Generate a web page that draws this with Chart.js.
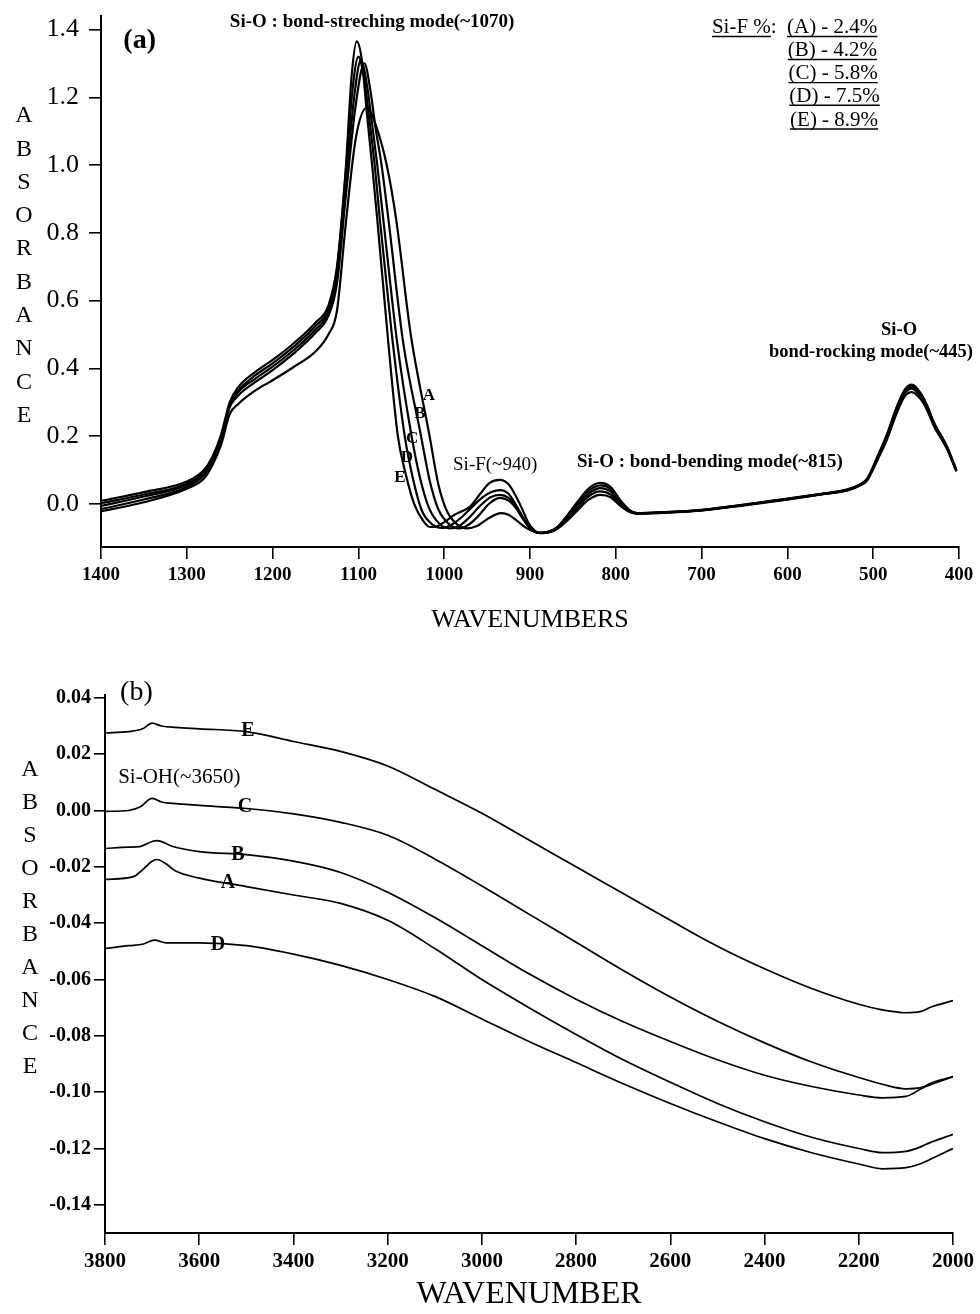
<!DOCTYPE html>
<html>
<head>
<meta charset="utf-8">
<script src="https://cdn.jsdelivr.net/npm/chart.js@4.4.1/dist/chart.umd.min.js"></script>
<style>
  html, body { margin: 0; padding: 0; background: #fff; }
  #wrap { position: relative; width: 980px; height: 1314px; }
  #chartA { position: absolute; left: 0; top: 0; }
  #chartB { position: absolute; left: 0; top: 650px; }
</style>
</head>
<body>
<div id="wrap">
  <canvas id="chartA" width="980" height="650"></canvas>
  <canvas id="chartB" width="980" height="664"></canvas>
</div>
<script>
// ---- panel (a): 1400-400 cm-1, [wavenumber, absorbance] ----
const aCurveA = [[1400,-0.022],[1350,0.005],[1300,0.045],[1280,0.075],[1270,0.115],[1260,0.175],[1250,0.265],[1240,0.295],[1220,0.335],[1200,0.365],[1175,0.405],[1150,0.45],[1135,0.5],[1125,0.57],[1115,0.82],[1103,1.08],[1090,1.17],[1080,1.12],[1067,1.0],[1056,0.84],[1039,0.5],[1017,0.2],[1007,0.06],[997,-0.02],[985,-0.06],[973,-0.072],[962,-0.065],[950,-0.045],[940,-0.031],[933,-0.027],[925,-0.032],[915,-0.05],[905,-0.07],[895,-0.082],[888,-0.086],[878,-0.084],[868,-0.073],[857,-0.05],[845,-0.02],[832,0.012],[818,0.027],[806,0.02],[795,-0.005],[784,-0.024],[775,-0.029],[750,-0.027],[700,-0.019],[650,-0.004],[600,0.013],[560,0.028],[530,0.04],[515,0.055],[507,0.07],[495,0.13],[484,0.19],[472,0.272],[463,0.318],[455,0.33],[445,0.31],[437,0.276],[430,0.234],[414,0.162],[403,0.096]];
const aCurveB = [[1400,-0.015],[1350,0.013],[1300,0.05],[1280,0.085],[1270,0.125],[1260,0.19],[1250,0.285],[1240,0.32],[1220,0.36],[1200,0.395],[1175,0.445],[1150,0.505],[1135,0.555],[1125,0.65],[1115,0.9],[1103,1.18],[1093,1.30],[1086,1.22],[1080,1.11],[1073,1.0],[1065,0.84],[1048,0.48],[1027,0.2],[1017,0.07],[1007,-0.015],[995,-0.058],[983,-0.072],[972,-0.062],[960,-0.035],[948,0.0],[935,0.018],[925,0.01],[917,-0.01],[908,-0.045],[900,-0.072],[890,-0.085],[880,-0.084],[868,-0.071],[857,-0.045],[845,-0.012],[832,0.022],[818,0.037],[806,0.028],[795,0.0],[784,-0.022],[775,-0.028],[750,-0.026],[700,-0.019],[650,-0.003],[600,0.014],[560,0.029],[530,0.041],[515,0.056],[507,0.072],[495,0.134],[484,0.197],[472,0.28],[463,0.327],[455,0.34],[445,0.318],[437,0.282],[430,0.238],[414,0.165],[403,0.097]];
const aCurveC = [[1400,-0.006],[1350,0.022],[1300,0.056],[1280,0.09],[1270,0.13],[1260,0.195],[1250,0.29],[1240,0.33],[1220,0.37],[1200,0.405],[1175,0.455],[1150,0.515],[1135,0.565],[1125,0.67],[1115,0.93],[1105,1.2],[1097,1.31],[1090,1.235],[1084,1.12],[1078,1.0],[1071,0.84],[1055,0.48],[1038,0.2],[1028,0.075],[1018,-0.01],[1005,-0.06],[993,-0.072],[982,-0.064],[970,-0.038],[958,-0.005],[946,0.02],[935,0.027],[925,0.018],[917,-0.005],[908,-0.042],[900,-0.07],[890,-0.085],[880,-0.083],[868,-0.069],[857,-0.04],[845,-0.005],[832,0.03],[818,0.047],[806,0.037],[795,0.005],[784,-0.02],[775,-0.028],[750,-0.026],[700,-0.018],[650,-0.003],[600,0.014],[560,0.029],[530,0.041],[515,0.057],[507,0.073],[495,0.136],[484,0.2],[472,0.284],[463,0.332],[455,0.345],[445,0.322],[437,0.285],[430,0.24],[414,0.166],[403,0.098]];
const aCurveD = [[1400,0.002],[1350,0.028],[1300,0.06],[1280,0.095],[1270,0.135],[1260,0.2],[1250,0.295],[1240,0.335],[1220,0.38],[1200,0.415],[1175,0.465],[1150,0.525],[1135,0.575],[1125,0.69],[1115,0.97],[1107,1.22],[1100,1.32],[1093,1.25],[1087,1.13],[1081,1.0],[1075,0.84],[1061,0.5],[1046,0.2],[1036,0.07],[1026,-0.02],[1013,-0.062],[1003,-0.071],[992,-0.062],[980,-0.04],[968,-0.01],[955,0.02],[945,0.035],[935,0.041],[925,0.03],[917,0.0],[908,-0.04],[900,-0.07],[890,-0.085],[880,-0.083],[868,-0.068],[857,-0.037],[845,0.0],[832,0.038],[818,0.055],[806,0.044],[795,0.01],[784,-0.019],[775,-0.027],[750,-0.025],[700,-0.017],[650,-0.002],[600,0.016],[560,0.03],[530,0.043],[515,0.058],[507,0.074],[495,0.138],[484,0.203],[472,0.288],[463,0.336],[455,0.35],[445,0.326],[437,0.288],[430,0.243],[414,0.168],[403,0.099]];
const aCurveE = [[1400,0.009],[1350,0.035],[1300,0.066],[1280,0.10],[1270,0.14],[1260,0.205],[1250,0.30],[1240,0.345],[1220,0.39],[1200,0.425],[1175,0.475],[1150,0.535],[1135,0.585],[1125,0.70],[1115,0.98],[1108,1.26],[1102,1.365],[1096,1.31],[1090,1.15],[1084,1.0],[1078,0.84],[1066,0.5],[1054,0.2],[1045,0.09],[1035,0.0],[1025,-0.048],[1017,-0.068],[1008,-0.066],[998,-0.05],[988,-0.032],[980,-0.022],[970,-0.008],[958,0.03],[947,0.062],[935,0.071],[925,0.058],[918,0.03],[910,-0.01],[902,-0.055],[895,-0.078],[888,-0.086],[878,-0.083],[868,-0.068],[857,-0.035],[845,0.005],[832,0.045],[818,0.062],[806,0.05],[795,0.012],[784,-0.018],[775,-0.027],[750,-0.025],[700,-0.018],[650,-0.002],[600,0.015],[560,0.03],[530,0.042],[515,0.058],[507,0.075],[495,0.14],[484,0.205],[472,0.29],[463,0.338],[455,0.352],[445,0.328],[437,0.29],[430,0.245],[414,0.17],[403,0.10]];
const xTicksA = [1400, 1300, 1200, 1100, 1000, 900, 800, 700, 600, 500, 400];
const yTicksA = [0.0, 0.2, 0.4, 0.6, 0.8, 1.0, 1.2, 1.4];
const legendA = ['(A) - 2.4%', '(B) - 4.2%', '(C) - 5.8%', '(D) - 7.5%', '(E) - 8.9%'];

// ---- panel (b): 3800-2000 cm-1 ----
const bCurveA = [[3800,-0.0245],[3740,-0.0235],[3720,-0.021],[3700,-0.018],[3690,-0.0174],[3670,-0.019],[3650,-0.0215],[3600,-0.024],[3500,-0.027],[3400,-0.030],[3300,-0.033],[3200,-0.039],[3100,-0.049],[3000,-0.060],[2900,-0.070],[2800,-0.0795],[2700,-0.0885],[2600,-0.0965],[2500,-0.104],[2400,-0.1105],[2300,-0.116],[2200,-0.120],[2150,-0.1215],[2100,-0.121],[2070,-0.1195],[2050,-0.118],[2000,-0.115]];
const bCurveB = [[3800,-0.0135],[3750,-0.013],[3726,-0.0128],[3700,-0.011],[3690,-0.0107],[3656,-0.0128],[3600,-0.0146],[3500,-0.0157],[3400,-0.018],[3300,-0.022],[3200,-0.029],[3100,-0.038],[3000,-0.048],[2900,-0.058],[2800,-0.067],[2700,-0.075],[2600,-0.082],[2500,-0.0885],[2400,-0.094],[2300,-0.098],[2200,-0.101],[2150,-0.102],[2100,-0.1015],[2070,-0.099],[2050,-0.097],[2000,-0.0945]];
const bCurveC = [[3800,-0.0003],[3750,0.0],[3726,0.0012],[3700,0.0043],[3680,0.003],[3656,0.0025],[3600,0.0018],[3500,0.0007],[3400,-0.0012],[3300,-0.0042],[3200,-0.0088],[3100,-0.0172],[3000,-0.0268],[2900,-0.0368],[2800,-0.0468],[2700,-0.0568],[2600,-0.0662],[2500,-0.0748],[2400,-0.0825],[2300,-0.0893],[2200,-0.0948],[2150,-0.0972],[2100,-0.0988],[2070,-0.0985],[2050,-0.0975],[2000,-0.0945]];
const bCurveD = [[3800,-0.049],[3750,-0.048],[3720,-0.0475],[3695,-0.046],[3670,-0.047],[3600,-0.047],[3500,-0.048],[3400,-0.051],[3300,-0.055],[3200,-0.060],[3100,-0.066],[3000,-0.074],[2900,-0.082],[2800,-0.0895],[2700,-0.097],[2600,-0.104],[2500,-0.1105],[2400,-0.1165],[2300,-0.1215],[2200,-0.1255],[2150,-0.1272],[2100,-0.1268],[2070,-0.1255],[2050,-0.124],[2000,-0.120]];
const bCurveE = [[3800,0.0275],[3750,0.028],[3720,0.029],[3700,0.031],[3680,0.030],[3650,0.0295],[3600,0.029],[3500,0.028],[3400,0.0245],[3300,0.021],[3200,0.0158],[3100,0.0075],[3000,-0.001],[2900,-0.0105],[2800,-0.020],[2700,-0.0295],[2600,-0.039],[2500,-0.0482],[2400,-0.0562],[2300,-0.0632],[2200,-0.0688],[2150,-0.0708],[2100,-0.0718],[2070,-0.0714],[2045,-0.0697],[2000,-0.0675]];
const xTicksB = [3800, 3600, 3400, 3200, 3000, 2800, 2600, 2400, 2200, 2000];
const yTicksB = [0.04, 0.02, 0.0, -0.02, -0.04, -0.06, -0.08, -0.10, -0.12, -0.14];

const SERIF = "'Liberation Serif', 'Times New Roman', serif";

// draws notes (positioned in data units) and the stacked axis title
const figureText = {
    id: 'figureText',
    afterDatasetsDraw(chart, args, opts) {
        const ctx = chart.ctx;
        const xs = chart.scales.x;
        const ys = chart.scales.y;
        ctx.save();
        ctx.fillStyle = '#000';
        ctx.strokeStyle = '#000';
        ctx.textBaseline = 'middle';
        (opts.notes || []).forEach(n => {
            ctx.font = n.font;
            ctx.textAlign = n.align || 'left';
            const px = xs.getPixelForValue(n.x);
            const py = ys.getPixelForValue(n.y);
            ctx.fillText(n.text, px, py);
            if (n.underline) {
                const w = ctx.measureText(n.underline).width;
                ctx.lineWidth = 1.4;
                ctx.beginPath();
                ctx.moveTo(px, py + 9);
                ctx.lineTo(px + w, py + 9);
                ctx.stroke();
            }
        });
        const side = opts.side;
        if (side) {
            ctx.font = side.font;
            ctx.textAlign = 'center';
            side.text.split('').forEach((ch, i) => ctx.fillText(ch, side.x, side.y + i * side.step));
        }
        ctx.restore();
    }
};

function toPoints(arr) {
    return arr.map(p => ({ x: p[0], y: p[1] }));
}

function lineSet(label, arr, width) {
    return {
        label: label,
        data: toPoints(arr),
        borderColor: '#000',
        borderWidth: width,
        pointRadius: 0,
        fill: false,
        cubicInterpolationMode: 'monotone'
    };
}

function fixBox(w, h) {
    return scale => {
        if (w !== null) scale.width = w;
        if (h !== null) scale.height = h;
        scale.paddingTop = 0;
        scale.paddingBottom = 0;
        scale.paddingLeft = 0;
        scale.paddingRight = 0;
    };
}

// Panel (a)
const notesA = [
    { text: '(a)', x: 1374, y: 1.3675, font: 'bold 28px ' + SERIF },
    { text: 'Si-O : bond-streching mode(~1070)', x: 1084, y: 1.4206, font: 'bold 19px ' + SERIF, align: 'center' },
    { text: 'Si-F %:', x: 688, y: 1.406, font: '21px ' + SERIF, underline: 'Si-F %' },
    { text: 'Si-F(~940)', x: 989.7, y: 0.115, font: '19px ' + SERIF },
    { text: 'Si-O : bond-bending mode(~815)', x: 845.2, y: 0.124, font: 'bold 19px ' + SERIF },
    { text: 'Si-O', x: 469.9, y: 0.513, font: 'bold 18.5px ' + SERIF, align: 'center' },
    { text: 'bond-rocking mode(~445)', x: 502.6, y: 0.448, font: 'bold 18.5px ' + SERIF, align: 'center' },
    { text: 'A', x: 1017.7, y: 0.321, font: 'bold 17px ' + SERIF, align: 'center' },
    { text: 'B', x: 1028.2, y: 0.268, font: 'bold 17px ' + SERIF, align: 'center' },
    { text: 'C', x: 1037.5, y: 0.192, font: 'bold 17px ' + SERIF, align: 'center' },
    { text: 'D', x: 1043.4, y: 0.136, font: 'bold 17px ' + SERIF, align: 'center' },
    { text: 'E', x: 1051.5, y: 0.077, font: 'bold 17px ' + SERIF, align: 'center' }
];
const legendRowsY = [1.406, 1.338, 1.270, 1.203, 1.133];
legendA.forEach((t, i) => {
    notesA.push({ text: t, x: 600.5 - i * 0.9, y: legendRowsY[i], font: '21px ' + SERIF, underline: t });
});

new Chart(document.getElementById('chartA'), {
    type: 'line',
    data: {
        datasets: [
            lineSet('A', aCurveA, 2.2),
            lineSet('B', aCurveB, 2.2),
            lineSet('C', aCurveC, 2.2),
            lineSet('D', aCurveD, 2.2),
            lineSet('E', aCurveE, 2.2)
        ]
    },
    options: {
        responsive: false,
        animation: false,
        events: [],
        layout: { padding: { left: 0, top: 16, right: 21, bottom: 0 } },
        scales: {
            x: {
                type: 'linear',
                reverse: true,
                min: 400,
                max: 1400,
                afterBuildTicks: s => { s.ticks = xTicksA.map(v => ({ value: v })); },
                afterFit: fixBox(null, 103),
                border: { display: true, color: '#000', width: 2 },
                grid: { drawOnChartArea: false, drawTicks: true, tickLength: 12, color: '#000', lineWidth: 1.6 },
                ticks: { color: '#000', padding: 5, maxRotation: 0, callback: v => String(v), font: { family: SERIF, size: 19, weight: 'bold' } },
                title: { display: true, text: 'WAVENUMBERS', color: '#000', padding: { top: 0, bottom: 14 }, font: { family: SERIF, size: 26 } }
            },
            y: {
                type: 'linear',
                min: -0.127,
                max: 1.44,
                afterBuildTicks: s => { s.ticks = yTicksA.map(v => ({ value: v })); },
                afterFit: fixBox(101, null),
                border: { display: true, color: '#000', width: 2 },
                grid: { drawOnChartArea: false, drawTicks: true, tickLength: 12, color: '#000', lineWidth: 1.6 },
                ticks: { color: '#000', padding: 10, callback: v => v.toFixed(1), font: { family: SERIF, size: 26 } }
            }
        },
        plugins: {
            legend: { display: false },
            tooltip: { enabled: false },
            figureText: {
                notes: notesA,
                side: { text: 'ABSORBANCE', x: 24, y: 116, step: 33.3, font: '24px ' + SERIF }
            }
        }
    },
    plugins: [figureText]
});

// Panel (b)
const notesB = [
    { text: '(b)', x: 3768, y: 0.0418, font: '28px ' + SERIF },
    { text: 'Si-OH(~3650)', x: 3772, y: 0.0116, font: '21px ' + SERIF },
    { text: 'E', x: 3496.5, y: 0.0283, font: 'bold 20px ' + SERIF, align: 'center' },
    { text: 'C', x: 3502.8, y: 0.0013, font: 'bold 20px ' + SERIF, align: 'center' },
    { text: 'B', x: 3517.7, y: -0.0157, font: 'bold 20px ' + SERIF, align: 'center' },
    { text: 'A', x: 3538.9, y: -0.0257, font: 'bold 20px ' + SERIF, align: 'center' },
    { text: 'D', x: 3560, y: -0.0477, font: 'bold 20px ' + SERIF, align: 'center' }
];

new Chart(document.getElementById('chartB'), {
    type: 'line',
    data: {
        datasets: [
            lineSet('A', bCurveA, 1.7),
            lineSet('B', bCurveB, 1.7),
            lineSet('C', bCurveC, 1.7),
            lineSet('D', bCurveD, 1.7),
            lineSet('E', bCurveE, 1.7)
        ]
    },
    options: {
        responsive: false,
        animation: false,
        events: [],
        layout: { padding: { left: 0, top: 45, right: 27, bottom: 0 } },
        scales: {
            x: {
                type: 'linear',
                reverse: true,
                min: 2000,
                max: 3800,
                afterBuildTicks: s => { s.ticks = xTicksB.map(v => ({ value: v })); },
                afterFit: fixBox(null, 81),
                border: { display: true, color: '#000', width: 2 },
                grid: { drawOnChartArea: false, drawTicks: true, tickLength: 12, color: '#000', lineWidth: 1.6 },
                ticks: { color: '#000', padding: 4, maxRotation: 0, callback: v => String(v), font: { family: SERIF, size: 21, weight: 'bold' } },
                title: { display: true, text: 'WAVENUMBER', color: '#000', padding: { top: 0, bottom: 0 }, font: { family: SERIF, size: 32 } }
            },
            y: {
                type: 'linear',
                min: -0.15,
                max: 0.041,
                afterBuildTicks: s => { s.ticks = yTicksB.map(v => ({ value: v })); },
                afterFit: fixBox(105, null),
                border: { display: true, color: '#000', width: 2 },
                grid: { drawOnChartArea: false, drawTicks: true, tickLength: 11, color: '#000', lineWidth: 1.6 },
                ticks: { color: '#000', padding: 3, callback: v => v.toFixed(2), font: { family: SERIF, size: 20, weight: 'bold' } }
            }
        },
        plugins: {
            legend: { display: false },
            tooltip: { enabled: false },
            figureText: {
                notes: notesB,
                side: { text: 'ABSORBANCE', x: 30, y: 120, step: 33, font: '24px ' + SERIF }
            }
        }
    },
    plugins: [figureText]
});
</script>
</body>
</html>
